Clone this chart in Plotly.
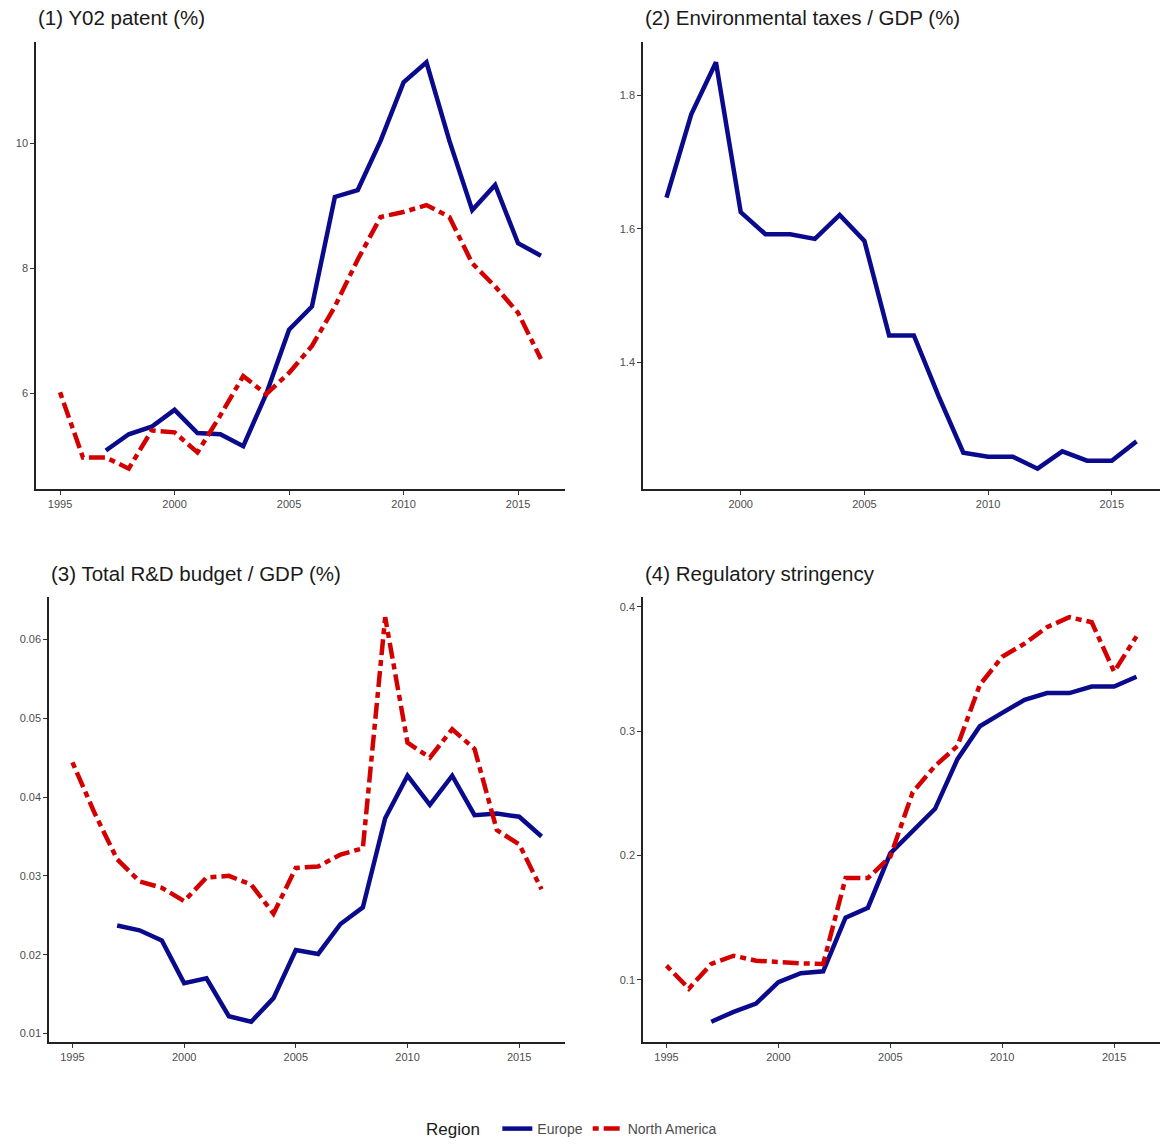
import plotly.graph_objects as go

years = list(range(1995, 2017))
years_eu = list(range(1997, 2017))

# (1) Y02 patent (%)
patent_eu = [5.09, 5.35, 5.47, 5.74, 5.37, 5.35, 5.16, 5.99, 7.02, 7.39, 9.14, 9.25,
             10.04, 10.97, 11.29, 10.04, 8.93, 9.33, 8.40, 8.20]
patent_na = [6.02, 4.98, 4.98, 4.80, 5.41, 5.38, 5.06, 5.65, 6.28, 5.99, 6.33, 6.76,
             7.39, 8.14, 8.82, 8.90, 9.01, 8.82, 8.08, 7.71, 7.29, 6.55]

# (2) Environmental taxes / GDP (%)
envtax_eu = [1.647, 1.772, 1.850, 1.625, 1.592, 1.592, 1.585, 1.621, 1.582, 1.440,
             1.440, 1.349, 1.264, 1.258, 1.258, 1.240, 1.266, 1.252, 1.252, 1.281]

# (3) Total R&D budget / GDP (%)
rd_eu = [0.0237, 0.0231, 0.0218, 0.0164, 0.0170, 0.0122, 0.0115, 0.0145, 0.0206, 0.0201,
         0.0239, 0.0260, 0.0373, 0.0427, 0.0390, 0.0427, 0.0377, 0.0379, 0.0375, 0.0350]
rd_na = [0.0444, 0.0379, 0.0321, 0.0293, 0.0285, 0.0268, 0.0298, 0.0300, 0.0289, 0.0252,
         0.0310, 0.0312, 0.0327, 0.0335, 0.0628, 0.0469, 0.0450, 0.0486, 0.0461, 0.0358,
         0.0340, 0.0283]

# (4) Regulatory stringency
reg_eu = [0.0663, 0.0743, 0.0809, 0.0982, 0.1053, 0.1069, 0.150, 0.158, 0.2017, 0.220,
          0.2375, 0.2774, 0.3039, 0.3146, 0.3251, 0.3305, 0.3305, 0.3358, 0.3358, 0.3437]
reg_na = [0.1114, 0.0929, 0.1128, 0.1194, 0.1154, 0.1141, 0.1133, 0.1128, 0.1818, 0.1818,
          0.199, 0.2508, 0.2720, 0.2880, 0.3371, 0.3597, 0.3703, 0.3835, 0.3915, 0.3875,
          0.3477, 0.3761]

titles = ["(1) Y02 patent (%)", "(2) Environmental taxes / GDP (%)",
          "(3) Total R&D budget / GDP (%)", "(4) Regulatory stringency"]
xticks = [1995, 2000, 2005, 2010, 2015]
yticks = [[6, 8, 10], [1.4, 1.6, 1.8], [0.01, 0.02, 0.03, 0.04, 0.05, 0.06], [0.1, 0.2, 0.3, 0.4]]
yticklabels = [["6", "8", "10"], ["1.4", "1.6", "1.8"],
               ["0.01", "0.02", "0.03", "0.04", "0.05", "0.06"], ["0.1", "0.2", "0.3", "0.4"]]

EU_COLOR = "#0a0a8c"
NA_COLOR = "#d40000"
NA_DASH = "6px,5px,16px,5px"

W, H = 1163, 1146
# pixel boxes: (left, right, top, bottom)
boxes = [(36, 565, 42, 489), (643, 1160, 42, 489), (49, 565, 597, 1042), (643, 1160, 597, 1042)]

def pad(lo, hi):
    s = hi - lo
    return [lo - 0.05 * s, hi + 0.05 * s]

fig = go.Figure()

series = [
    (years_eu, patent_eu, years, patent_na),
    (years_eu, envtax_eu, None, None),
    (years_eu, rd_eu, years, rd_na),
    (years_eu, reg_eu, years, reg_na),
]

font_family = "Liberation Sans, Arial, sans-serif"

for i, (xe, ye, xn, yn) in enumerate(series):
    ax = "" if i == 0 else str(i + 1)
    fig.add_trace(go.Scatter(x=xe, y=ye, mode="lines", name="Europe",
                             line=dict(color=EU_COLOR, width=4.5),
                             xaxis="x" + ax, yaxis="y" + ax,
                             showlegend=(i == 0), legendgroup="eu"))
    if xn is not None:
        fig.add_trace(go.Scatter(x=xn, y=yn, mode="lines", name="North America",
                                 line=dict(color=NA_COLOR, width=4.5, dash=NA_DASH),
                                 xaxis="x" + ax, yaxis="y" + ax,
                                 showlegend=(i == 0), legendgroup="na"))
    allx = list(xe) + (list(xn) if xn else [])
    ally = list(ye) + (list(yn) if yn else [])
    l, r, t, b = boxes[i]
    common = dict(showline=True, linecolor="#222222", linewidth=1.5, ticks="outside",
                  ticklen=4, tickwidth=1.2, tickcolor="#333333", showgrid=False,
                  zeroline=False, tickfont=dict(size=11, color="#4d4d4d", family=font_family))
    fig.layout["xaxis" + ax] = dict(domain=[l / W, r / W], anchor="y" + ax,
                                    range=pad(min(allx), max(allx)),
                                    tickvals=xticks, ticktext=[str(v) for v in xticks], **common)
    fig.layout["yaxis" + ax] = dict(domain=[1 - b / H, 1 - t / H], anchor="x" + ax,
                                    range=pad(min(ally), max(ally)),
                                    tickvals=yticks[i], ticktext=yticklabels[i], **common)
    fig.add_annotation(text=titles[i], xref="paper", yref="paper",
                       x=l / W, y=1 - (t - 24) / H, xanchor="left", yanchor="middle",
                       showarrow=False, font=dict(size=20.5, color="#1a1a1a", family=font_family))

fig.update_layout(
    width=W, height=H,
    margin=dict(l=0, r=0, t=0, b=0),
    paper_bgcolor="white", plot_bgcolor="white",
    font=dict(family=font_family),
    legend=dict(orientation="h", x=573 / W, xanchor="center", y=0, yanchor="bottom",
                title=dict(text="Region  ", font=dict(size=17, color="#1a1a1a")),
                font=dict(size=14, color="#4d4d4d"), itemwidth=30, bgcolor="rgba(0,0,0,0)"),
)

fig.write_html("out.html", config={"displayModeBar": False},
               post_script="document.body.style.margin='0px';document.body.style.padding='0px';")
